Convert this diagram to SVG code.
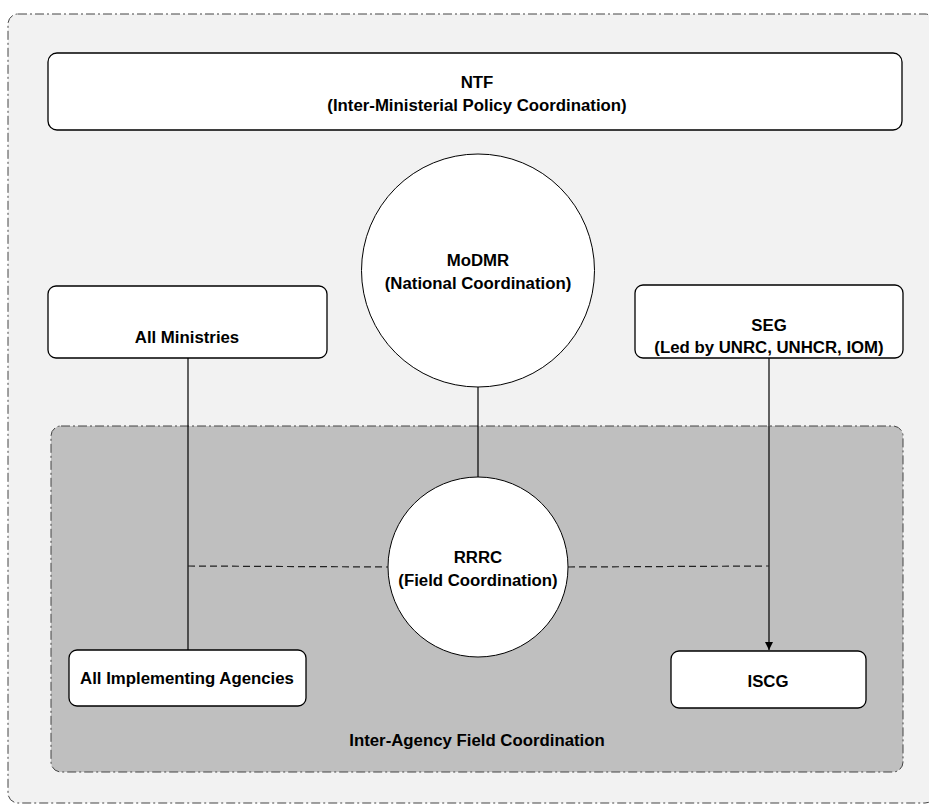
<svg xmlns="http://www.w3.org/2000/svg" width="929" height="806" viewBox="0 0 929 806">
<style>
.t{font-family:"Liberation Sans",Arial,sans-serif;font-weight:bold;font-size:16.8px;fill:#000;text-anchor:middle}
.box{fill:#fff;stroke:#000;stroke-width:1.3}
.circ{fill:#fff;stroke:#000;stroke-width:1}
.solid{stroke:#000;stroke-width:1.2;fill:none}
.dash{stroke:#222;stroke-width:1.2;fill:none;stroke-dasharray:7,4}
.frame{stroke:#444;stroke-width:1;stroke-dasharray:9,3,2,3}
</style>
<defs>
<marker id="arr" markerWidth="10" markerHeight="10" refX="8" refY="4" orient="auto" markerUnits="userSpaceOnUse">
<path d="M0,0 L8,4 L0,8 Z" fill="#000"/>
</marker>
</defs>
<rect width="929" height="806" fill="#fff"/>
<g id="outer">
<rect class="frame" x="8" y="14" width="927" height="789" rx="10" fill="#f2f2f2"/>
</g>
<g id="field-area">
<rect class="frame" x="51" y="426" width="852" height="346" rx="10" fill="#bfbfbf"/>
<text class="t" x="477" y="746">Inter-Agency Field Coordination</text>
</g>
<g id="connectors">
<line class="solid" x1="188" y1="358" x2="188" y2="650"/>
<line class="solid" x1="478" y1="387" x2="478" y2="477"/>
<line class="solid" x1="769" y1="358" x2="769" y2="650" marker-end="url(#arr)"/>
<line class="dash" x1="188" y1="566" x2="388" y2="567"/>
<line class="dash" x1="568" y1="567" x2="769" y2="566"/>
</g>
<g id="ntf">
<rect class="box" x="48" y="53" width="854" height="77" rx="9"/>
<text class="t" x="477" y="88">NTF</text>
<text class="t" x="477" y="111">(Inter-Ministerial Policy Coordination)</text>
</g>
<g id="modmr">
<circle class="circ" cx="478" cy="270.5" r="116.5"/>
<text class="t" x="478" y="266">MoDMR</text>
<text class="t" x="478" y="289">(National Coordination)</text>
</g>
<g id="all-ministries">
<rect class="box" x="48" y="286" width="279" height="72" rx="8"/>
<text class="t" x="187" y="343">All Ministries</text>
</g>
<g id="seg">
<rect class="box" x="635" y="285" width="268" height="73" rx="8"/>
<text class="t" x="769" y="331">SEG</text>
<text class="t" x="769" y="353">(Led by UNRC, UNHCR, IOM)</text>
</g>
<g id="rrrc">
<circle class="circ" cx="478" cy="567" r="90"/>
<text class="t" x="478" y="563">RRRC</text>
<text class="t" x="478" y="586">(Field Coordination)</text>
</g>
<g id="all-implementing">
<rect class="box" x="69" y="650" width="237" height="56" rx="8"/>
<text class="t" x="187" y="684">All Implementing Agencies</text>
</g>
<g id="iscg">
<rect class="box" x="671" y="651" width="195" height="57" rx="8"/>
<text class="t" x="768" y="687">ISCG</text>
</g>
</svg>
